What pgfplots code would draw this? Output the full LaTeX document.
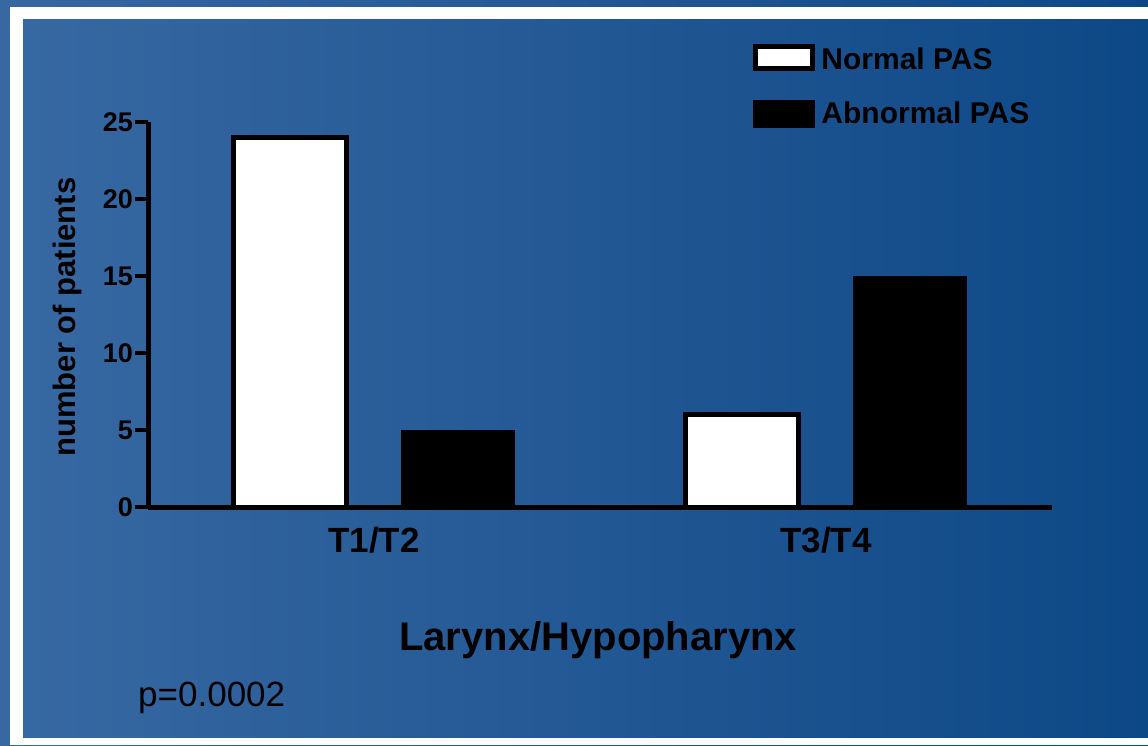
\documentclass[border=0pt]{standalone}
\usepackage{fontspec}
\setmainfont{Liberation Sans}
\usepackage{pgfplots}
\pgfplotsset{compat=1.18}
\definecolor{bgL}{RGB}{55,104,162}
\definecolor{bgR}{RGB}{13,72,134}
\begin{document}
\begin{tikzpicture}[x=1pt,y=1pt]
\shade[left color=bgL,right color=bgR] (0,0) rectangle (1148,745);
\fill[white] (10,0) rectangle (1148,738);
\shade[left color=bgL,right color=bgR] (23,8) rectangle (1148,725);
\begin{axis}[
  at={(148pt,238pt)}, anchor=south west,
  scale only axis, width=904pt, height=385pt,
  xmin=-0.5, xmax=1.5, ymin=0, ymax=25,
  axis lines=left,
  axis line style={-, line width=5pt, black},
  ytick={0,5,10,15,20,25},
  xtick={0,1}, xticklabels={T1/T2,T3/T4},
  tick align=outside,
  major tick length=13pt,
  ytick style={line width=4pt, black},
  xtick style={draw=none},
  yticklabel style={font=\bfseries\fontsize{27}{30}\selectfont, inner sep=2pt},
  xticklabel style={font=\bfseries\fontsize{35}{40}\selectfont, anchor=base, yshift=-32pt},
  /pgf/number format/assume math mode=true,
  xlabel={Larynx/Hypopharynx}, ylabel={number of patients},
  xlabel style={font=\bfseries\fontsize{40}{46}\selectfont, at={(axis description cs:0.498,-0.374)}, anchor=base},
  ylabel style={font=\bfseries\fontsize{31}{36}\selectfont, at={(axis description cs:-0.0896,0.4935)}, anchor=center},
  legend style={at={(axis description cs:0.669,1.202)}, anchor=north west, draw=none, fill=none,
    font=\bfseries\fontsize{30}{34}\selectfont, inner sep=0pt, row sep=27pt, column sep=4pt},
  legend cell align=left,
]
\addplot[ybar, bar width=0.25, bar shift=-0.186, fill=white, draw=black, line width=5pt,
  legend image code/.code={\draw[fill=white,draw=black,line width=5pt] (2.5pt,-10pt) rectangle (59.5pt,12pt);}]
  coordinates {(0,24) (1,6)};
\addlegendentry{Normal PAS}
\addplot[ybar, bar width=0.25, bar shift=0.186, fill=black, draw=black, line width=1pt,
  legend image code/.code={\fill[black] (0pt,-14.5pt) rectangle (61pt,12.5pt);}]
  coordinates {(0,5) (1,15)};
\addlegendentry{Abnormal PAS}
\end{axis}
\node[anchor=base west, font=\fontsize{35}{40}\selectfont, inner sep=0pt] at (138,39) {p=0.0002};
\pgfresetboundingbox
\useasboundingbox (0,0) rectangle (1148,745);
\end{tikzpicture}
\end{document}
